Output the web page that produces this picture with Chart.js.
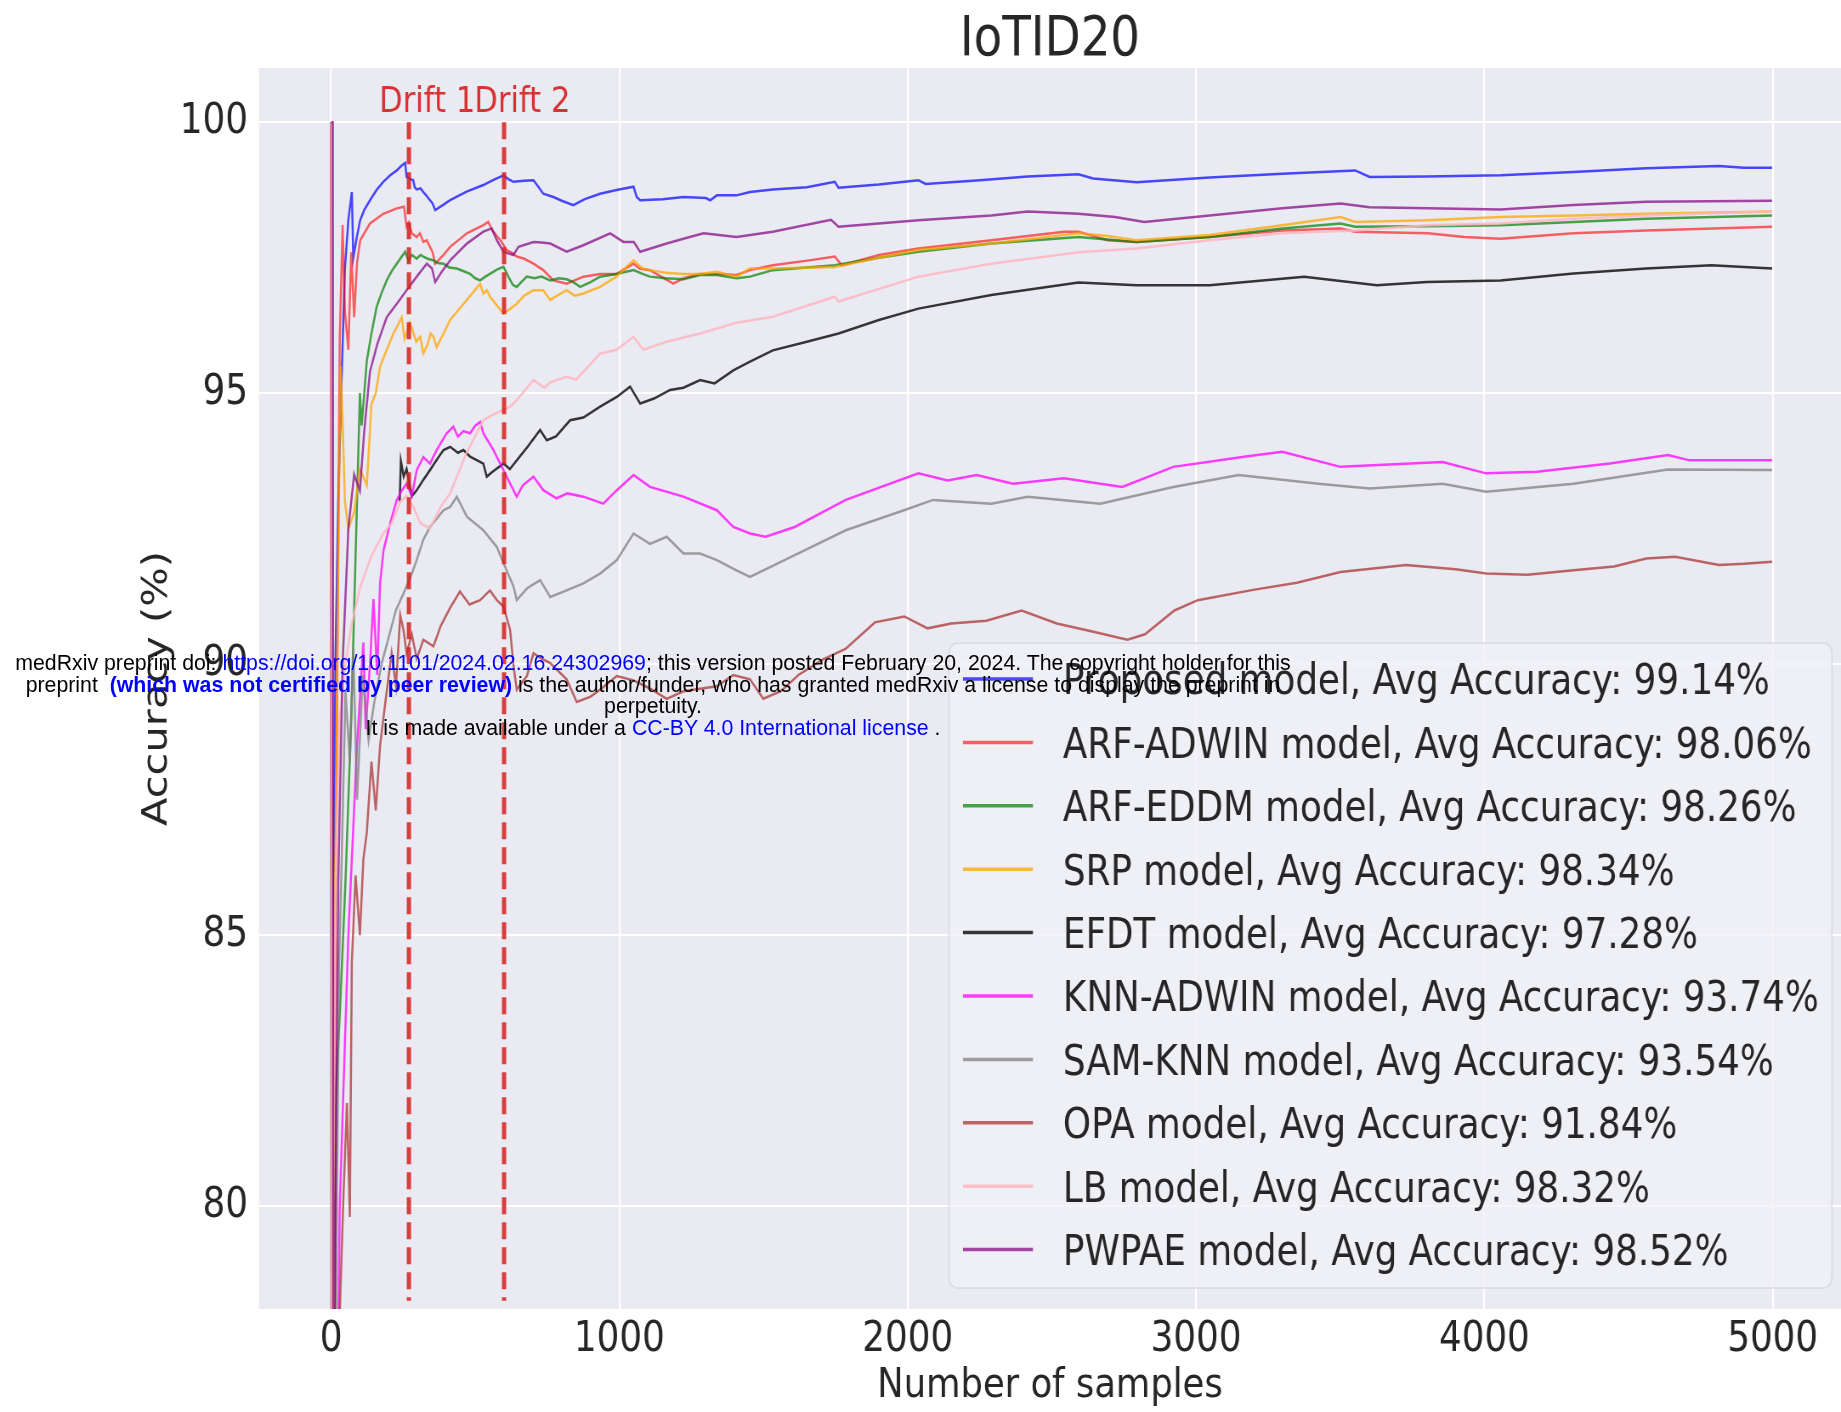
<!DOCTYPE html>
<html>
<head>
<meta charset="utf-8">
<script src="https://cdn.jsdelivr.net/npm/chart.js@4.4.1/dist/chart.umd.min.js"></script>
<style>
  html, body { margin: 0; padding: 0; background: #ffffff; overflow: hidden; }
  #wrap { position: relative; width: 1841px; height: 1412px; overflow: hidden; }
  #wm { position: absolute; left: 0; top: 653px; width: 1306px; text-align: center;
        font-family: "Liberation Sans", Arial, sans-serif; font-size: 21.3px; line-height: 21.5px; color: #000; white-space: nowrap; }
  #wm .b { color: #0000ff; }
  #wm .bb { color: #0000ff; font-weight: bold; }
</style>
</head>
<body>
<div id="wrap">
  <canvas id="c" width="2166" height="1412" style="display:block;width:1841px;height:1412px;"></canvas>
  <div id="wm">
    <div>medRxiv preprint doi: <span class="b">https://doi.org/10.1101/2024.02.16.24302969</span>; this version posted February 20, 2024. The copyright holder for this</div>
    <div>preprint &nbsp;<span class="bb">(which was not certified by peer review)</span> is the author/funder, who has granted medRxiv a license to display the preprint in</div>
    <div>perpetuity.</div>
    <div>It is made available under a <span class="b">CC-BY 4.0 International license</span> .</div>
  </div>
</div>
<script>
// ---------------- data ----------------
const chartTitle = 'IoTID20';
const xTickValues = [0, 1000, 2000, 3000, 4000, 5000];
const yTickValues = [80, 85, 90, 95, 100];
const driftSamples = [270, 600];
const driftLabels = ['Drift 1', 'Drift 2'];
const modelNames = ['Proposed', 'ARF-ADWIN', 'ARF-EDDM', 'SRP', 'EFDT', 'KNN-ADWIN', 'SAM-KNN', 'OPA', 'LB', 'PWPAE'];
const avgAccuracy = [99.14, 98.06, 98.26, 98.34, 97.28, 93.74, 93.54, 91.84, 98.32, 98.52];

const proposed = [[1,100],[3,70],[8,85],[15,90],[25,93],[35,95],[48,97.3],[60,98.2],[72,98.71],[77,97.5],[90,97.9],[101,98.19],[115,98.38],[135,98.56],[158,98.75],[181,98.9],[205,99.02],[228,99.11],[245,99.2],[257,99.25],[262,98.99],[275,98.95],[285,98.93],[290,98.8],[297,98.76],[310,98.78],[320,98.71],[330,98.65],[343,98.56],[352,98.5],[361,98.38],[385,98.46],[413,98.56],[470,98.72],[528,98.84],[565,98.94],[598,99.02],[615,98.95],[632,98.9],[670,98.92],[702,98.93],[720,98.8],[736,98.68],[771,98.62],[800,98.55],[840,98.47],[880,98.58],[933,98.68],[990,98.75],[1049,98.81],[1060,98.62],[1072,98.56],[1150,98.58],[1222,98.62],[1300,98.6],[1315,98.56],[1338,98.65],[1406,98.65],[1453,98.71],[1532,98.76],[1650,98.8],[1747,98.9],[1760,98.79],[1900,98.85],[2037,98.93],[2062,98.86],[2250,98.93],[2416,99.0],[2592,99.04],[2643,98.96],[2794,98.89],[2900,98.93],[3047,98.98],[3299,99.05],[3552,99.11],[3602,98.99],[3800,99.0],[4056,99.02],[4309,99.08],[4561,99.15],[4814,99.19],[4900,99.16],[4998,99.16]];

const arfAdwin = [[1,100],[4,50],[15,85],[30,96],[40,98.1],[48,96.5],[60,95.8],[70,97.6],[80,96.4],[90,97.4],[101,97.82],[135,98.13],[181,98.31],[228,98.41],[253,98.44],[262,98.07],[270,98.15],[280,97.95],[297,97.88],[308,97.95],[320,97.79],[332,97.82],[343,97.7],[352,97.6],[361,97.39],[390,97.55],[413,97.7],[471,97.95],[528,98.1],[545,98.16],[560,98.0],[575,97.9],[590,97.8],[609,97.64],[625,97.6],[644,97.52],[670,97.48],[702,97.39],[736,97.27],[771,97.08],[817,97.02],[875,97.15],[933,97.2],[990,97.2],[1049,97.39],[1070,97.3],[1106,97.27],[1187,97.02],[1222,97.12],[1280,97.2],[1338,97.2],[1406,97.18],[1453,97.27],[1532,97.36],[1658,97.45],[1747,97.52],[1772,97.36],[1900,97.55],[2037,97.67],[2290,97.82],[2542,97.98],[2592,97.98],[2693,97.82],[2794,97.79],[3047,97.88],[3299,98.0],[3501,98.04],[3552,97.98],[3804,97.95],[3930,97.88],[4056,97.85],[4309,97.95],[4561,98.0],[4998,98.07]];

const arfEddm = [[1,100],[3,50],[8,75],[15,82],[30,83.5],[50,86],[70,89],[90,93],[100,95.0],[106,94.4],[124,95.6],[140,96.1],[158,96.59],[175,96.85],[193,97.08],[210,97.25],[228,97.39],[245,97.52],[257,97.61],[268,97.45],[280,97.55],[297,97.48],[310,97.55],[320,97.52],[335,97.48],[355,97.45],[370,97.4],[390,97.39],[410,97.32],[436,97.3],[460,97.25],[482,97.2],[500,97.12],[517,97.08],[535,97.15],[551,97.2],[575,97.28],[598,97.33],[615,97.15],[630,97.0],[644,96.96],[660,97.05],[679,97.15],[705,97.12],[730,97.15],[760,97.08],[790,97.12],[817,97.1],[840,97.05],[864,96.96],[900,97.05],[933,97.15],[990,97.2],[1049,97.27],[1080,97.2],[1106,97.15],[1160,97.12],[1222,97.1],[1280,97.18],[1338,97.18],[1406,97.12],[1453,97.15],[1532,97.27],[1747,97.36],[1900,97.5],[2037,97.61],[2290,97.76],[2592,97.88],[2794,97.79],[3047,97.88],[3299,98.04],[3501,98.13],[3552,98.07],[3804,98.08],[4056,98.1],[4309,98.16],[4561,98.22],[4998,98.28]];

const srp = [[1,100],[5,67],[12,85],[25,92],[33,95.5],[40,94.5],[48,93.0],[60,92.5],[80,92.8],[100,93.6],[124,93.3],[140,94.8],[155,95.0],[170,95.49],[193,95.8],[216,96.1],[228,96.22],[245,96.4],[255,96.0],[262,96.1],[272,96.3],[280,96.2],[295,95.95],[309,96.04],[320,95.73],[335,95.9],[345,96.1],[355,96.04],[366,95.85],[390,96.1],[413,96.35],[471,96.72],[517,97.02],[528,96.84],[540,96.9],[551,96.78],[575,96.62],[598,96.47],[620,96.55],[644,96.65],[670,96.8],[702,96.9],[736,96.9],[760,96.72],[790,96.82],[817,96.9],[845,96.8],[875,96.84],[933,96.96],[990,97.15],[1049,97.45],[1080,97.3],[1106,97.27],[1160,97.22],[1222,97.2],[1280,97.2],[1338,97.24],[1406,97.15],[1453,97.3],[1532,97.3],[1747,97.33],[1900,97.5],[2037,97.64],[2290,97.76],[2592,97.95],[2693,97.9],[2794,97.82],[3047,97.92],[3299,98.1],[3501,98.25],[3552,98.16],[3804,98.19],[4056,98.25],[4309,98.28],[4561,98.31],[4998,98.35]];

const efdt = [[238,93.0],[242,93.75],[252,93.46],[262,93.6],[280,93.1],[297,93.21],[320,93.4],[343,93.58],[370,93.8],[390,93.95],[413,94.01],[440,93.9],[459,93.95],[482,93.83],[510,93.75],[528,93.7],[540,93.46],[560,93.55],[598,93.7],[620,93.6],[644,93.76],[680,94.0],[725,94.32],[748,94.13],[780,94.2],[829,94.5],[875,94.55],[933,94.75],[991,94.93],[1037,95.12],[1072,94.81],[1120,94.9],[1176,95.06],[1222,95.1],[1280,95.24],[1330,95.18],[1395,95.42],[1453,95.58],[1532,95.79],[1650,95.95],[1760,96.1],[1900,96.35],[2037,96.56],[2290,96.81],[2592,97.04],[2794,96.99],[3047,96.99],[3375,97.15],[3627,96.99],[3800,97.05],[4056,97.08],[4309,97.21],[4561,97.3],[4788,97.36],[4998,97.3]];

const knnAdwin = [[1,100],[3,50],[10,70],[30,80],[60,85],[90,88.5],[112,90.4],[120,88.8],[135,90.0],[147,91.2],[160,89.8],[170,91.5],[182,92.1],[205,92.6],[228,93.03],[245,93.2],[262,93.33],[280,93.1],[297,93.58],[320,93.82],[343,93.7],[366,93.95],[401,94.26],[424,94.38],[440,94.2],[459,94.3],[482,94.26],[500,94.4],[517,94.47],[528,94.26],[563,93.95],[598,93.58],[621,93.33],[644,93.09],[665,93.3],[702,93.46],[736,93.21],[782,93.06],[820,93.15],[875,93.09],[944,92.96],[991,93.21],[1049,93.49],[1106,93.27],[1222,93.09],[1338,92.84],[1395,92.53],[1453,92.41],[1507,92.35],[1608,92.53],[1785,93.03],[2037,93.52],[2138,93.39],[2239,93.49],[2365,93.33],[2542,93.43],[2744,93.27],[2921,93.64],[3173,93.83],[3299,93.92],[3501,93.64],[3855,93.73],[4006,93.52],[4183,93.55],[4435,93.7],[4637,93.86],[4712,93.76],[4998,93.76]];

const samKnn = [[1,100],[3,40],[10,70],[20,80],[28,84.5],[35,86],[50,89.5],[65,88.2],[77,90.3],[90,87.5],[110,89.8],[130,88.6],[150,89.3],[175,90.0],[200,90.5],[225,91.0],[251,91.3],[275,91.6],[297,91.92],[320,92.3],[343,92.53],[390,92.84],[413,92.9],[436,93.09],[471,92.72],[528,92.47],[575,92.16],[598,91.86],[633,91.43],[644,91.18],[680,91.4],[725,91.55],[760,91.24],[817,91.36],[875,91.49],[933,91.67],[991,91.92],[1049,92.41],[1106,92.22],[1164,92.35],[1222,92.04],[1280,92.04],[1338,91.92],[1406,91.73],[1453,91.61],[1608,92.01],[1785,92.47],[1987,92.84],[2088,93.03],[2290,92.96],[2416,93.09],[2668,92.96],[2921,93.27],[3148,93.49],[3425,93.33],[3602,93.24],[3855,93.33],[4006,93.18],[4309,93.33],[4637,93.59],[4998,93.58]];

const opa = [[1,100],[3,0],[10,50],[20,70],[30,78],[43,80.2],[55,81.9],[65,79.8],[72,84.5],[85,86.1],[100,85.0],[112,86.4],[124,86.9],[140,88.2],[155,87.3],[170,88.5],[193,89.5],[210,90.2],[225,89.6],[240,90.9],[251,90.63],[262,90.2],[280,90.55],[297,90.1],[320,90.45],[355,90.33],[380,90.7],[413,91.04],[447,91.34],[480,91.1],[517,91.18],[551,91.36],[575,91.18],[598,91.06],[621,90.63],[633,89.96],[644,89.53],[679,89.78],[702,90.2],[730,90.1],[760,90.02],[817,89.72],[852,89.3],[900,89.4],[933,89.53],[991,89.78],[1049,89.7],[1106,89.55],[1164,89.36],[1222,89.5],[1338,89.59],[1395,89.8],[1453,89.72],[1499,89.36],[1560,89.5],[1621,89.8],[1703,90.08],[1784,90.28],[1886,90.77],[1988,90.88],[2069,90.66],[2151,90.75],[2273,90.8],[2395,90.99],[2517,90.75],[2640,90.6],[2762,90.45],[2823,90.55],[2925,90.99],[3006,91.18],[3198,91.37],[3350,91.5],[3501,91.7],[3728,91.83],[3900,91.75],[4006,91.67],[4150,91.65],[4309,91.73],[4450,91.8],[4561,91.95],[4662,91.98],[4814,91.83],[4900,91.85],[4998,91.89]];

const lb = [[1,100],[3,60],[8,80],[15,86],[30,89],[50,90],[70,90.7],[100,91.4],[140,92.0],[180,92.4],[210,92.6],[240,93.0],[262,93.1],[285,92.9],[310,92.6],[343,92.5],[380,92.9],[413,93.15],[470,93.9],[528,94.5],[560,94.6],[621,94.75],[644,94.87],[702,95.24],[740,95.1],[760,95.2],[817,95.3],[850,95.25],[933,95.73],[990,95.8],[1049,96.04],[1083,95.8],[1164,95.95],[1280,96.1],[1406,96.3],[1532,96.41],[1747,96.78],[1760,96.69],[2037,97.15],[2290,97.39],[2592,97.6],[2794,97.67],[3047,97.82],[3299,97.95],[3552,98.0],[3804,98.1],[4056,98.13],[4309,98.22],[4561,98.28],[4998,98.35]];

const pwpae = [[1,100],[6,100],[8,75],[15,80],[25,86],[40,90],[60,92.5],[80,93.5],[100,93.2],[115,94.3],[135,95.4],[160,95.9],[193,96.4],[228,96.65],[262,96.9],[297,97.15],[332,97.39],[350,97.3],[361,97.05],[385,97.25],[413,97.45],[471,97.76],[528,97.98],[557,98.04],[575,97.82],[598,97.61],[632,97.55],[650,97.7],[702,97.79],[730,97.78],[760,97.76],[817,97.61],[875,97.73],[968,97.95],[1014,97.79],[1050,97.79],[1072,97.61],[1164,97.76],[1222,97.85],[1292,97.95],[1406,97.88],[1532,97.98],[1734,98.2],[1760,98.07],[2037,98.19],[2290,98.28],[2416,98.35],[2592,98.31],[2719,98.25],[2820,98.16],[3047,98.28],[3299,98.41],[3501,98.5],[3602,98.43],[3804,98.41],[4056,98.39],[4309,98.47],[4561,98.53],[4998,98.55]];

const seriesData = [proposed, arfAdwin, arfEddm, srp, efdt, knnAdwin, samKnn, opa, lb, pwpae];

// ---------------- styles ----------------
const seriesColors = [
  'rgba(0,0,255,0.7)', 'rgba(255,0,0,0.6)', 'rgba(0,128,0,0.7)', 'rgba(255,165,0,0.75)',
  'rgba(0,0,0,0.78)', 'rgba(255,0,255,0.75)', 'rgba(128,128,128,0.75)', 'rgba(165,42,42,0.7)',
  'rgba(255,182,193,0.85)', 'rgba(128,0,128,0.7)'
];
const SQ = 0.85;                 // horizontal compression of the original figure
const FONT = '"DejaVu Sans", "Liberation Sans", sans-serif';
const TXT = '#262626';
const U = v => v / SQ;           // full-size x px -> canvas px

const bgPlugin = {
  id: 'bg',
  beforeDraw(chart) {
    const { ctx, chartArea: a } = chart;
    ctx.save();
    ctx.fillStyle = '#ffffff';
    ctx.fillRect(0, 0, chart.width, chart.height);
    ctx.fillStyle = '#EAEAF2';
    ctx.fillRect(a.left, a.top, a.right - a.left, a.bottom - a.top);
    ctx.restore();
  }
};

const overlayPlugin = {
  id: 'overlay',
  afterDraw(chart) {
    const { ctx, scales: { x, y } } = chart;
    ctx.save();
    driftSamples.forEach((d, i) => {
      const px = x.getPixelForValue(d);
      ctx.strokeStyle = 'rgba(214,30,30,0.85)';
      ctx.lineWidth = 5;
      ctx.setLineDash([17, 8]);
      ctx.beginPath();
      ctx.moveTo(px, y.getPixelForValue(100));
      ctx.lineTo(px, y.getPixelForValue(78.25));
      ctx.stroke();
      ctx.setLineDash([]);
      ctx.fillStyle = 'rgba(214,30,30,0.9)';
      ctx.font = '36px ' + FONT;
      ctx.textAlign = 'left';
      ctx.textBaseline = 'alphabetic';
      ctx.fillText(driftLabels[i], px - 35, 111.5);
    });
    const L = U(949), R = U(1832), T = 643, B = 1288;
    ctx.beginPath();
    if (ctx.roundRect) ctx.roundRect(L, T, R - L, B - T, 10); else ctx.rect(L, T, R - L, B - T);
    ctx.fillStyle = 'rgba(240,240,246,0.8)';
    ctx.fill();
    ctx.strokeStyle = 'rgba(215,215,222,0.9)';
    ctx.lineWidth = 1.5;
    ctx.stroke();
    modelNames.forEach((name, i) => {
      const cy = 679 + i * 63.4;
      ctx.strokeStyle = seriesColors[i];
      ctx.lineWidth = 3.5;
      ctx.beginPath();
      ctx.moveTo(U(963), cy);
      ctx.lineTo(U(1033), cy);
      ctx.stroke();
      ctx.fillStyle = TXT;
      ctx.font = '42px ' + FONT;
      ctx.textAlign = 'left';
      ctx.textBaseline = 'alphabetic';
      ctx.fillText(`${name} model, Avg Accuracy: ${avgAccuracy[i].toFixed(2)}%`, U(1063), cy + 15.4);
    });
    ctx.restore();
  }
};

const datasets = seriesData.map((pts, i) => ({
  label: modelNames[i],
  data: pts.map(p => ({ x: p[0], y: p[1] })),
  borderColor: seriesColors[i],
  backgroundColor: seriesColors[i],
  borderWidth: 2.5,
  pointRadius: 0,
  tension: 0,
  fill: false,
  order: seriesData.length - i
}));

new Chart(document.getElementById('c'), {
  type: 'line',
  data: { datasets },
  options: {
    responsive: false,
    animation: false,
    devicePixelRatio: 1,
    layout: { padding: 0 },
    plugins: {
      legend: { display: false },
      tooltip: { enabled: false },
      title: {
        display: true, text: chartTitle, fullSize: false, color: TXT,
        font: { family: FONT, size: 55, weight: 'normal', lineHeight: 1 },
        padding: { top: 13, bottom: 0 }
      }
    },
    scales: {
      x: {
        type: 'linear', min: -250, max: 5237,
        afterBuildTicks: s => { s.ticks = xTickValues.map(v => ({ value: v })); },
        afterFit: s => { s.height = 103; },
        border: { display: false },
        grid: { color: '#ffffff', lineWidth: 2.2, drawTicks: false },
        ticks: { color: TXT, font: { family: FONT, size: 42, lineHeight: 1 }, padding: 10, maxRotation: 0, autoSkip: false, callback: v => String(v) },
        title: { display: true, text: 'Number of samples', color: TXT, font: { family: FONT, size: 41.6, lineHeight: 1 }, padding: { top: 0, bottom: 4.6 } }
      },
      y: {
        type: 'linear', min: 78.1, max: 101,
        afterBuildTicks: s => { s.ticks = yTickValues.map(v => ({ value: v })); },
        afterFit: s => { s.width = U(259); },
        border: { display: false },
        grid: { color: '#ffffff', lineWidth: 2, drawTicks: false },
        ticks: { color: TXT, font: { family: FONT, size: 42, lineHeight: 1 }, padding: 13, callback: v => String(v) },
        title: { display: true, text: 'Accuracy (%)', color: TXT, font: { family: FONT, size: 41.6, lineHeight: 1 }, padding: { top: 164, bottom: 0 } }
      }
    }
  },
  plugins: [bgPlugin, overlayPlugin]
});
</script>
</body>
</html>
